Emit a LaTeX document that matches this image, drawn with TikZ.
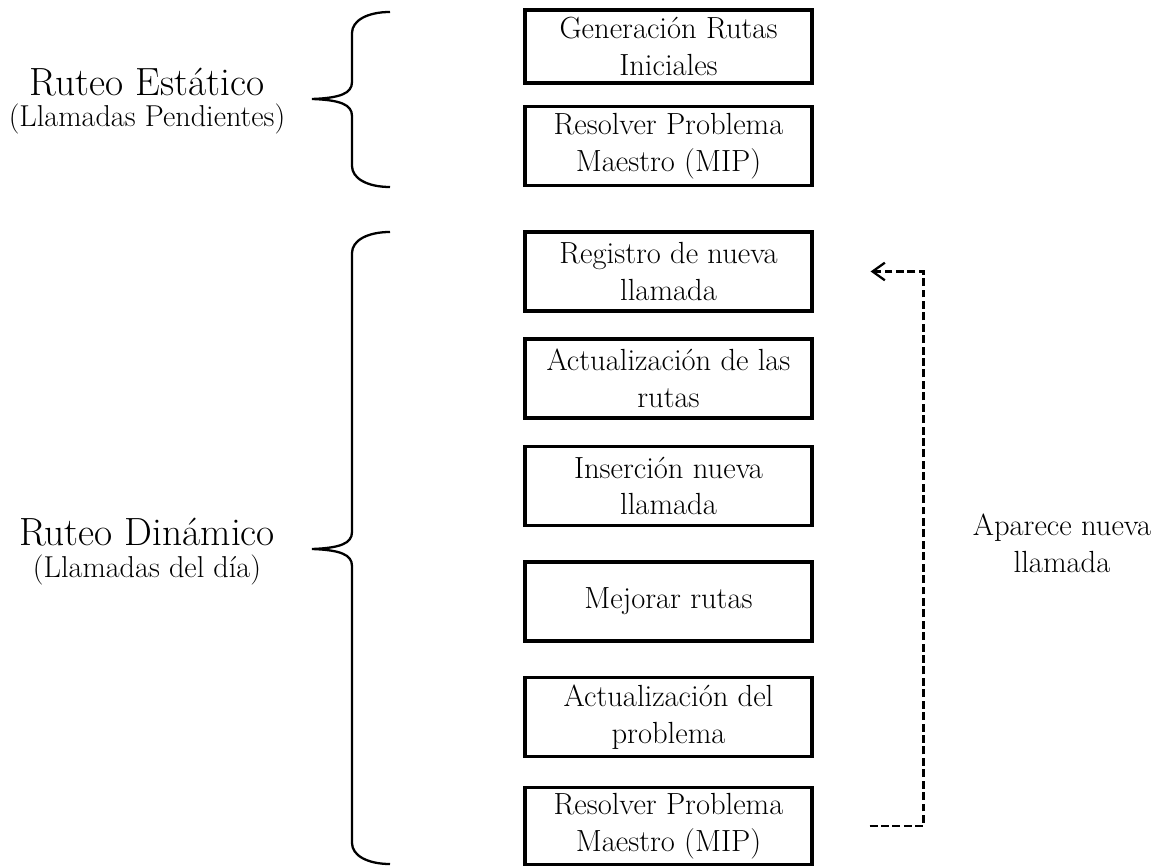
\documentclass[tikz,border=0pt]{standalone}
\usepackage{tikz}
\usetikzlibrary{calc}
\usetikzlibrary{positioning}
\usetikzlibrary{arrows.meta}

\begin{document}
\begin{tikzpicture}[caja/.style={draw, rectangle, line width=1.8pt, minimum width=5.74cm, minimum height=1.58cm, align=center, inner sep=2pt, font=\fontsize{17.4}{21}\selectfont},
titulo/.style={anchor=base, font=\fontsize{22.4}{26}\selectfont},
subtitulo/.style={anchor=base, font=\fontsize{17.2}{20}\selectfont},
llave/.style={line width=1.3pt},
flecha/.style={-{Straight Barb[length=7pt,width=10pt]}, line width=1.3pt, dash pattern=on 4.5pt off 2pt}]
\useasboundingbox (0,0) rectangle (23.16,17.32);
% ruteo estatico
\node[caja, minimum height=1.46cm] (GEN) at (13.37,16.39) {Generación Rutas\\Iniciales};
\node[caja] (MIP1) at (13.37,14.40) {Resolver Problema\\Maestro (MIP)};
% ruteo dinamico
\node[caja] (REG) at (13.37,11.89) {Registro de nueva\\llamada};
\node[caja] (ACT) at (13.37,9.75) {Actualización de las\\rutas};
\node[caja] (INS) at (13.37,7.60) {Inserción nueva\\llamada};
\node[caja] (MEJ) at (13.37,5.29) {Mejorar rutas};
\node[caja] (ACTP) at (13.37,2.98) {Actualización del\\problema};
\node[caja, minimum height=1.54cm] (MIP2) at (13.37,0.80) {Resolver Problema\\Maestro (MIP)};
% llaves
\draw[llave] (7.80,17.08) .. controls (7.35,17.08) and (7.04,16.91) .. (7.04,16.66) -- (7.04,15.68) .. controls (7.04,15.45) and (6.80,15.36) .. (6.24,15.34) .. controls (6.80,15.32) and (7.04,15.23) .. (7.04,15.00) -- (7.04,14.00) .. controls (7.04,13.75) and (7.35,13.58) .. (7.80,13.58);
\draw[llave] (7.80,12.68) .. controls (7.35,12.68) and (7.04,12.51) .. (7.04,12.26) -- (7.04,6.68) .. controls (7.04,6.45) and (6.80,6.36) .. (6.24,6.34) .. controls (6.80,6.32) and (7.04,6.23) .. (7.04,6.00) -- (7.04,0.46) .. controls (7.04,0.21) and (7.35,0.04) .. (7.80,0.04);
\node[titulo] (EST) at (2.94,15.40) {Ruteo Estático};
\node[subtitulo] (ESTs) at (2.94,14.78) {(Llamadas Pendientes)};
\node[titulo] (DIN) at (2.94,6.40) {Ruteo Dinámico};
\node[subtitulo] (DINs) at (2.94,5.76) {(Llamadas del día)};
% nueva llamada
\coordinate[right=1.12cm of MIP2.east] (SAL);
\coordinate[right=1.14cm of REG.east] (LLE);
\draw[flecha] (SAL) -- ++(1.08,0) |- (LLE);
\node[align=center, font=\fontsize{17.4}{21}\selectfont] (NUEVA) at (21.24,6.46) {Aparece nueva\\llamada};
\end{tikzpicture}
\end{document}
